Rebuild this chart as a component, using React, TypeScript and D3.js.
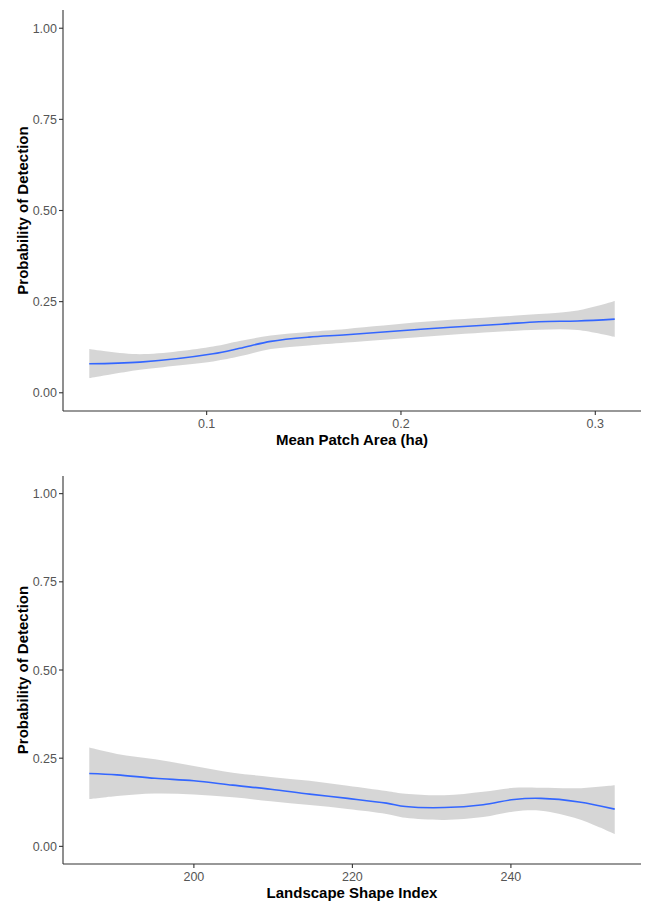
import React from "react";
import * as d3 from "d3";

const yTicks = [0, 0.25, 0.5, 0.75, 1.0];

const mpaTicks = [0.1, 0.2, 0.3];
const mpaX = [0.0396, 0.0657, 0.1033, 0.117, 0.133, 0.1527, 0.172, 0.212, 0.2517, 0.271, 0.291, 0.31];
const mpaFit = [0.0795, 0.084, 0.107, 0.122, 0.141, 0.1526, 0.159, 0.175, 0.188, 0.195, 0.197, 0.202];
const mpaLo = [0.04, 0.063, 0.086, 0.1, 0.12, 0.13, 0.138, 0.154, 0.168, 0.173, 0.172, 0.153];
const mpaHi = [0.12, 0.106, 0.127, 0.142, 0.157, 0.167, 0.175, 0.1945, 0.209, 0.216, 0.226, 0.252];

const lsiTicks = [200, 220, 240];
const lsiX = [186.8, 190.3, 195.1, 200, 204.9, 209.7, 214.6, 219.4, 224.3, 226.7, 231.6, 236.5, 240.4, 243.8, 248.6, 253.1];
const lsiFit = [0.2066, 0.2027, 0.193, 0.186, 0.1735, 0.162, 0.148, 0.136, 0.1226, 0.113, 0.11, 0.118, 0.133, 0.136, 0.126, 0.1056];
const lsiLo = [0.134, 0.143, 0.15, 0.147, 0.139, 0.128, 0.117, 0.106, 0.092, 0.081, 0.075, 0.083, 0.099, 0.101, 0.077, 0.035];
const lsiHi = [0.28, 0.262, 0.247, 0.228, 0.209, 0.197, 0.186, 0.172, 0.157, 0.149, 0.145, 0.155, 0.166, 0.166, 0.165, 0.1735];

type PanelProps = {
  top: number;
  bottom: number;
  xs: number[];
  fit: number[];
  lo: number[];
  hi: number[];
  xTicks: number[];
  xFmt: (v: number) => string;
  xTitle: string;
};

const left = 63;
const right = 641;
const FONT = "Liberation Sans, Arial, sans-serif";

function Panel({ top, bottom, xs, fit, lo, hi, xTicks, xFmt, xTitle }: PanelProps) {
  const xmin = d3.min(xs)!;
  const xmax = d3.max(xs)!;
  const dx = (xmax - xmin) * 0.05;
  const x = d3.scaleLinear().domain([xmin - dx, xmax + dx]).range([left, right]);
  const y = d3.scaleLinear().domain([-0.05, 1.05]).range([bottom, top]);
  const idx = xs.map((_, i) => i);
  const area = d3
    .area<number>()
    .x((i) => x(xs[i]))
    .y0((i) => y(lo[i]))
    .y1((i) => y(hi[i]))
    .curve(d3.curveCatmullRom.alpha(0.5));
  const line = d3
    .line<number>()
    .x((i) => x(xs[i]))
    .y((i) => y(fit[i]))
    .curve(d3.curveCatmullRom.alpha(0.5));
  const axisColor = "#333333";
  const tickColor = "#555555";
  return (
    <g>
      <path d={area(idx)!} fill="#999999" fillOpacity={0.4} stroke="none" />
      <path d={line(idx)!} fill="none" stroke="#3366FF" strokeWidth={1.6} />
      <line x1={left} x2={left} y1={top} y2={bottom} stroke={axisColor} strokeWidth={1.1} />
      <line x1={left} x2={right} y1={bottom} y2={bottom} stroke={axisColor} strokeWidth={1.1} />
      {yTicks.map((t) => (
        <g key={"y" + t}>
          <line x1={left - 4} x2={left} y1={y(t)} y2={y(t)} stroke={axisColor} strokeWidth={1.1} />
          <text
            x={left - 6}
            y={y(t)}
            dy="0.36em"
            textAnchor="end"
            fontSize={12.5}
            fill={tickColor}
            fontFamily={FONT}
          >
            {t.toFixed(2)}
          </text>
        </g>
      ))}
      {xTicks.map((t) => (
        <g key={"x" + t}>
          <line x1={x(t)} x2={x(t)} y1={bottom} y2={bottom + 4} stroke={axisColor} strokeWidth={1.1} />
          <text
            x={x(t)}
            y={bottom + 17}
            textAnchor="middle"
            fontSize={12.5}
            fill={tickColor}
            fontFamily={FONT}
          >
            {xFmt(t)}
          </text>
        </g>
      ))}
      <text
        x={(left + right) / 2}
        y={bottom + 34}
        textAnchor="middle"
        fontSize={15}
        fontWeight="bold"
        fill="#000"
        fontFamily={FONT}
      >
        {xTitle}
      </text>
      <text
        transform={`translate(28,${(top + bottom) / 2}) rotate(-90)`}
        textAnchor="middle"
        fontSize={15}
        fontWeight="bold"
        fill="#000"
        fontFamily={FONT}
      >
        Probability of Detection
      </text>
    </g>
  );
}

export default function App() {
  return (
    <svg
      width={646}
      height={902}
      style={{ position: "absolute", left: 0, top: 0, background: "#fff" }}
    >
      <rect width={646} height={902} fill="#fff" />
      <Panel
        top={10}
        bottom={411}
        xs={mpaX}
        fit={mpaFit}
        lo={mpaLo}
        hi={mpaHi}
        xTicks={mpaTicks}
        xFmt={(v) => d3.format(".1f")(v)}
        xTitle="Mean Patch Area (ha)"
      />
      <Panel
        top={476}
        bottom={864}
        xs={lsiX}
        fit={lsiFit}
        lo={lsiLo}
        hi={lsiHi}
        xTicks={lsiTicks}
        xFmt={(v) => String(v)}
        xTitle="Landscape Shape Index"
      />
    </svg>
  );
}
